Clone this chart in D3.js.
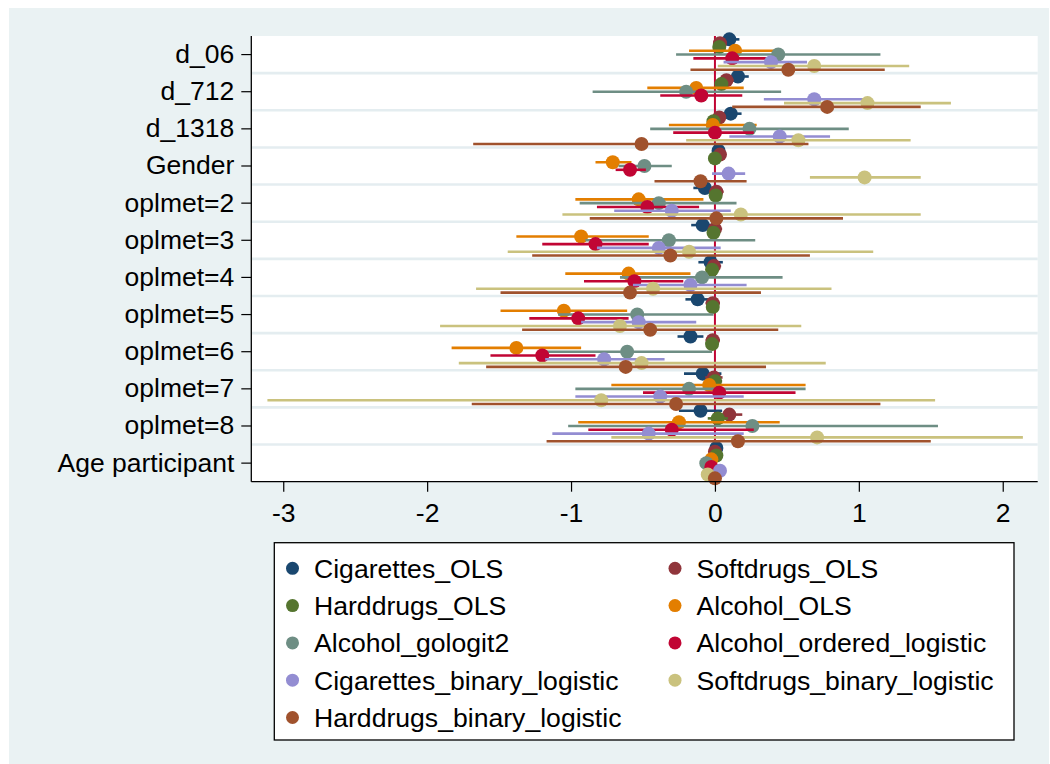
<!DOCTYPE html>
<html>
<head>
<meta charset="utf-8">
<script src="https://cdn.jsdelivr.net/npm/d3@7"></script>
<style>
  html, body { margin: 0; padding: 0; background: #ffffff; }
  svg { display: block; }
  text { font-family: "Liberation Sans", Arial, sans-serif; fill: #000; }
</style>
</head>
<body>
<svg id="chart" width="1050" height="764"></svg>
<script>
// Coefficient estimates with 95% confidence intervals for nine models
const categories = ["d_06", "d_712", "d_1318", "Gender", "oplmet=2", "oplmet=3",
  "oplmet=4", "oplmet=5", "oplmet=6", "oplmet=7", "oplmet=8", "Age participant"];

const seriesNames = ["Cigarettes_OLS", "Softdrugs_OLS", "Harddrugs_OLS", "Alcohol_OLS",
  "Alcohol_gologit2", "Alcohol_ordered_logistic", "Cigarettes_binary_logistic",
  "Softdrugs_binary_logistic", "Harddrugs_binary_logistic"];

const seriesColors = ["#1a476f", "#90353b", "#55752f", "#e37e00", "#6e8e84",
  "#c10534", "#938dd2", "#cac27e", "#a0522d"];

const xTicks = [-3, -2, -1, 0, 1, 2];

// point estimates
const cigOLS_b    = [0.10, 0.16, 0.11, 0.025, -0.07, -0.085, -0.03, -0.12, -0.17, -0.085, -0.10, 0.01];
const softOLS_b   = [0.035, 0.08, 0.03, 0.035, 0.01, 0.0, -0.007, -0.015, -0.015, -0.007, 0.10, 0.0];
const hardOLS_b   = [0.03, 0.045, -0.01, 0.0, 0.005, -0.01, -0.02, -0.015, -0.02, 0.0, 0.02, 0.01];
const alcOLS_b    = [0.14, -0.13, -0.015, -0.71, -0.53, -0.93, -0.60, -1.05, -1.38, -0.04, -0.25, -0.025];
const alcGolog_b  = [0.44, -0.20, 0.24, -0.49, -0.39, -0.32, -0.09, -0.54, -0.61, -0.18, 0.26, -0.06];
const alcOrd_b    = [0.12, -0.095, 0.0, -0.59, -0.47, -0.83, -0.56, -0.95, -1.20, 0.03, -0.30, -0.025];
const cigBin_b    = [0.39, 0.69, 0.45, 0.095, -0.30, -0.39, -0.17, -0.53, -0.77, -0.38, -0.46, 0.035];
const softBin_b   = [0.69, 1.06, 0.58, 1.04, 0.18, -0.18, -0.43, -0.66, -0.51, -0.79, 0.71, -0.05];
const hardBin_b   = [0.51, 0.78, -0.51, -0.10, 0.01, -0.31, -0.59, -0.45, -0.62, -0.27, 0.16, 0.0];

// lower bounds
const cigOLS_lo   = [0.03, 0.085, 0.035, -0.015, -0.15, -0.165, -0.115, -0.205, -0.26, -0.215, -0.25, 0.005];
const softOLS_lo  = [-0.005, 0.03, -0.01, 0.005, -0.04, -0.05, -0.057, -0.065, -0.065, -0.067, 0.01, -0.005];
const hardOLS_lo  = [0.0, 0.015, -0.04, -0.03, -0.035, -0.05, -0.06, -0.055, -0.06, -0.05, -0.05, 0.006];
const alcOLS_lo   = [-0.18, -0.47, -0.32, -0.83, -0.97, -1.38, -1.04, -1.49, -1.83, -0.72, -0.95, -0.04];
const alcGolog_lo = [-0.27, -0.85, -0.45, -0.67, -0.94, -0.90, -0.66, -1.09, -1.20, -0.97, -1.02, -0.08];
const alcOrd_lo   = [-0.15, -0.38, -0.29, -0.69, -0.82, -1.20, -0.91, -1.29, -1.56, -0.50, -0.88, -0.04];
const cigBin_lo   = [0.06, 0.34, 0.10, -0.02, -0.70, -0.82, -0.57, -0.93, -1.18, -0.97, -1.13, 0.02];
const softBin_lo  = [0.02, 0.48, -0.20, 0.66, -1.06, -1.44, -1.66, -1.91, -1.78, -3.11, -0.72, -0.07];
const hardBin_lo  = [-0.17, 0.12, -1.68, -0.42, -0.87, -1.27, -1.49, -1.34, -1.59, -1.69, -1.17, -0.02];

// upper bounds
const cigOLS_hi   = [0.17, 0.235, 0.185, 0.065, 0.01, -0.005, 0.055, -0.035, -0.08, 0.045, 0.05, 0.015];
const softOLS_hi  = [0.075, 0.13, 0.07, 0.065, 0.06, 0.05, 0.043, 0.035, 0.035, 0.053, 0.19, 0.005];
const hardOLS_hi  = [0.06, 0.075, 0.02, 0.03, 0.045, 0.03, 0.02, 0.025, 0.02, 0.05, 0.09, 0.014];
const alcOLS_hi   = [0.41, 0.20, 0.29, -0.58, -0.08, -0.46, -0.17, -0.61, -0.93, 0.63, 0.45, -0.01];
const alcGolog_hi = [1.15, 0.46, 0.93, -0.30, 0.15, 0.28, 0.47, -0.01, -0.02, 0.63, 1.55, -0.04];
const alcOrd_hi   = [0.38, 0.19, 0.27, -0.48, -0.11, -0.46, -0.22, -0.60, -0.83, 0.56, 0.27, -0.01];
const cigBin_hi   = [0.64, 1.03, 0.80, 0.21, 0.11, 0.04, 0.22, -0.13, -0.35, 0.20, 0.20, 0.05];
const softBin_hi  = [1.35, 1.64, 1.36, 1.43, 1.43, 1.10, 0.81, 0.60, 0.77, 1.53, 2.14, -0.03];
const hardBin_hi  = [1.18, 1.43, 0.65, 0.22, 0.89, 0.66, 0.32, 0.44, 0.355, 1.15, 1.50, 0.02];

const estimates = [cigOLS_b, softOLS_b, hardOLS_b, alcOLS_b, alcGolog_b, alcOrd_b, cigBin_b, softBin_b, hardBin_b];
const lowers    = [cigOLS_lo, softOLS_lo, hardOLS_lo, alcOLS_lo, alcGolog_lo, alcOrd_lo, cigBin_lo, softBin_lo, hardBin_lo];
const uppers    = [cigOLS_hi, softOLS_hi, hardOLS_hi, alcOLS_hi, alcGolog_hi, alcOrd_hi, cigBin_hi, softBin_hi, hardBin_hi];

const svg = d3.select("#chart");
const W = 1050, H = 764;

// outer graph region
svg.append("rect").attr("x", 9).attr("y", 8).attr("width", W - 9 - 1).attr("height", H - 8)
  .attr("fill", "#eaf2f3");

const plot = { left: 251.3, right: 1037.7, top: 36, bottom: 481.7 };

// plot region
svg.append("rect").attr("x", plot.left).attr("y", plot.top)
  .attr("width", plot.right - plot.left).attr("height", plot.bottom - plot.top)
  .attr("fill", "#ffffff");

const x = d3.scaleLinear().domain([-3.222, 2.243]).range([plot.left, plot.right]);
const y = d3.scaleBand().domain(categories).range([plot.top, plot.bottom]).paddingInner(0).paddingOuter(0);
const inner = d3.scalePoint().domain(seriesNames).range([-15.2, 15.2]);
const yc = c => y(c) + y.bandwidth() / 2;

// grid lines between categories
svg.append("g").selectAll("line")
  .data(categories.slice(1))
  .join("line")
  .attr("x1", plot.left).attr("x2", plot.right)
  .attr("y1", c => y(c)).attr("y2", c => y(c))
  .attr("stroke", "#e4edf0").attr("stroke-width", 2.6);

// reference line at zero
svg.append("line")
  .attr("x1", x(0)).attr("x2", x(0))
  .attr("y1", plot.top).attr("y2", plot.bottom)
  .attr("stroke", "#c10534").attr("stroke-width", 2);

// confidence intervals and point estimates, series by series
seriesNames.forEach((name, s) => {
  const rows = categories.map((c, i) => ({
    c, b: estimates[s][i], lo: lowers[s][i], hi: uppers[s][i]
  }));
  const g = svg.append("g").attr("class", "series");
  g.selectAll("line")
    .data(rows)
    .join("line")
    .attr("x1", d => x(d.lo)).attr("x2", d => x(d.hi))
    .attr("y1", d => yc(d.c) + inner(name)).attr("y2", d => yc(d.c) + inner(name))
    .attr("stroke", seriesColors[s]).attr("stroke-width", 2.6);
  g.selectAll("circle")
    .data(rows)
    .join("circle")
    .attr("cx", d => x(d.b))
    .attr("cy", d => yc(d.c) + inner(name))
    .attr("r", 7)
    .attr("fill", seriesColors[s]);
});

// axes
const fontAxis = 26.5;
const yAxis = svg.append("g")
  .attr("transform", `translate(${plot.left},0)`)
  .call(d3.axisLeft(y).tickSize(10).tickPadding(7).tickSizeOuter(0));
yAxis.select(".domain").attr("stroke", "#000").attr("stroke-width", 1.3)
  .attr("d", `M0,${plot.top}V${plot.bottom}`);
yAxis.selectAll(".tick line").attr("stroke", "#000").attr("stroke-width", 1.2);
yAxis.selectAll(".tick text").attr("font-size", fontAxis)
  .attr("font-family", "Liberation Sans, Arial, sans-serif");

const xAxis = svg.append("g")
  .attr("transform", `translate(0,${plot.bottom})`)
  .call(d3.axisBottom(x).tickValues(xTicks).tickFormat(d => String(d))
    .tickSize(10).tickPadding(11).tickSizeOuter(0));
xAxis.select(".domain").attr("stroke", "#000").attr("stroke-width", 1.3)
  .attr("d", `M${plot.left},0H${plot.right}`);
xAxis.selectAll(".tick line").attr("stroke", "#000").attr("stroke-width", 1.2);
xAxis.selectAll(".tick text").attr("font-size", fontAxis)
  .attr("font-family", "Liberation Sans, Arial, sans-serif");

// legend
const legend = { left: 274.3, top: 542.7, right: 1014, bottom: 740 };
svg.append("rect")
  .attr("x", legend.left).attr("y", legend.top)
  .attr("width", legend.right - legend.left).attr("height", legend.bottom - legend.top)
  .attr("fill", "#ffffff").attr("stroke", "#000").attr("stroke-width", 1.3);

const legendCols = [292.5, 675];
const legendRow0 = 568.3, legendStep = 37.3;
const items = svg.append("g").selectAll("g")
  .data(seriesNames)
  .join("g")
  .attr("transform", (d, i) =>
    `translate(${legendCols[i % 2]},${legendRow0 + Math.floor(i / 2) * legendStep})`);
items.append("circle").attr("r", 6.5).attr("fill", (d, i) => seriesColors[i]);
items.append("text")
  .attr("x", 21.5).attr("dy", "0.36em")
  .attr("font-size", 26.6)
  .text(d => d);
</script>
</body>
</html>
